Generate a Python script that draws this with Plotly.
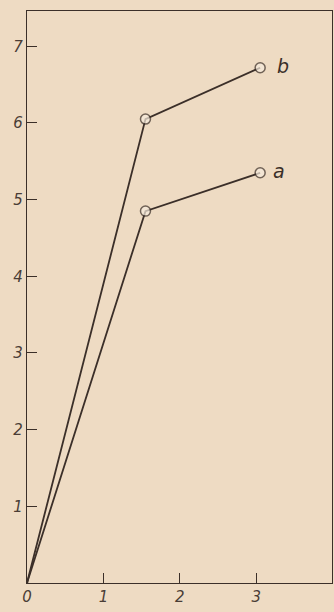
import plotly.graph_objects as go

# Measured series
x_vals = [0, 1.55, 3.05]
series_a = [0, 4.85, 5.35]
series_b = [0, 6.05, 6.72]
labels = ["a", "b"]
label_shift = [11, 15]

x_ticks = [0, 1, 2, 3]
y_ticks = [1, 2, 3, 4, 5, 6, 7]

bg = "#EEDBC3"
ink = "#3B2F29"

fig = go.Figure()
for name, ys, dx in zip(labels, [series_a, series_b], label_shift):
    fig.add_trace(go.Scatter(
        x=x_vals, y=ys, mode="lines+markers", name=name,
        line=dict(color=ink, width=1.8),
        marker=dict(symbol="circle", size=[1, 10, 10], color="#F6EBDD",
                    line=dict(color=ink, width=1.5)),
        showlegend=False,
    ))
    fig.add_annotation(x=x_vals[-1], y=ys[-1], text=name, showarrow=False,
                       xanchor="left", xshift=dx, yshift=2,
                       font=dict(family="DejaVu Sans", size=19, color=ink, style="italic"))

tick_font = dict(family="DejaVu Sans", size=15, color="#4a3d36", style="italic")
axis_common = dict(ticks="inside", ticklen=10, tickwidth=1.2, tickcolor=ink,
                   showgrid=False, zeroline=False, showline=True, linecolor=ink,
                   linewidth=1.3, mirror=True, tickfont=tick_font)
fig.update_layout(
    width=334, height=612,
    margin=dict(l=27, r=2, t=11, b=29),
    paper_bgcolor=bg, plot_bgcolor=bg,
    xaxis=dict(range=[0, 3.99], tickvals=x_ticks, ticktext=[str(v) for v in x_ticks],
               **axis_common),
    yaxis=dict(range=[0, 7.46], tickvals=y_ticks, ticktext=[str(v) for v in y_ticks],
               **axis_common),
)

fig.write_html("out.html")
